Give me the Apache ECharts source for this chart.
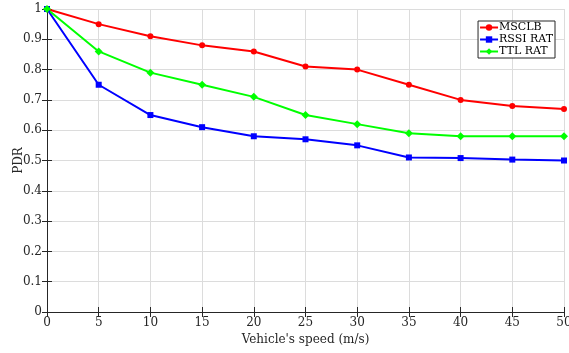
<!DOCTYPE html>
<html>
<head>
<meta charset="utf-8">
<script src="https://cdn.jsdelivr.net/npm/echarts@6/dist/echarts.min.js"></script>
<style>
html,body{margin:0;padding:0;background:#fff;}
#chart{width:569px;height:353px;}
</style>
</head>
<body>
<div id="chart"></div>
<script>
// Vehicle speed (m/s)
const speeds = [0, 5, 10, 15, 20, 25, 30, 35, 40, 45, 50];
// Packet delivery ratio per scheme
const msclb = [1, 0.95, 0.91, 0.88, 0.86, 0.81, 0.80, 0.75, 0.70, 0.68, 0.67];
const rssiRat = [1, 0.75, 0.65, 0.61, 0.58, 0.57, 0.55, 0.51, 0.508, 0.503, 0.50];
const ttlRat = [1, 0.86, 0.79, 0.75, 0.71, 0.65, 0.62, 0.59, 0.58, 0.58, 0.58];

const FONT = 'DejaVu Serif';
const toPairs = arr => arr.map((v, i) => [speeds[i], v]);

const chart = echarts.init(document.getElementById('chart'), null, {renderer: 'canvas'});

const axisLine = {show: true, lineStyle: {color: '#262626', width: 1}};
const tickIn = {show: true, inside: true, length: 5, lineStyle: {color: '#262626'}};

function series(name, data, color, symbol, size) {
  return {
    name, type: 'line', data: toPairs(data),
    symbol, symbolSize: size,
    lineStyle: {color, width: 2},
    itemStyle: {color},
    emphasis: {disabled: true},
    animation: false
  };
}

chart.setOption({
  animation: false,
  grid: {left: 47, right: 5, top: 9, bottom: 41, outerBoundsMode: 'none', containLabel: false},
  legend: {
    right: 14, top: 21, orient: 'vertical',
    itemWidth: 18, itemHeight: 8, itemGap: 1,
    padding: [1, 2, 1, 1],
    borderColor: '#262626', borderWidth: 1, backgroundColor: '#fff',
    textStyle: {fontFamily: FONT, fontSize: 11, color: '#000', padding: [0, 0, 0, -4]},
    data: ['MSCLB', 'RSSI RAT', 'TTL RAT']
  },
  xAxis: [{
    type: 'value', min: 0, max: 50, interval: 5,
    name: "Vehicle's speed (m/s)", nameLocation: 'middle', nameGap: 22, nameMoveOverlap: false,
    nameTextStyle: {fontFamily: FONT, fontSize: 12, color: '#262626'},
    axisLine, axisTick: tickIn,
    axisLabel: {fontFamily: FONT, fontSize: 12, color: '#262626', margin: 5},
    splitLine: {show: true, lineStyle: {color: '#dcdcdc', width: 1}}
  }, {
    type: 'value', min: 0, max: 50, interval: 5, position: 'top',
    axisLine, axisTick: tickIn, axisLabel: {show: false}, splitLine: {show: false}
  }],
  yAxis: [{
    type: 'value', min: 0, max: 1, interval: 0.1,
    name: 'PDR', nameLocation: 'middle', nameGap: 22, nameMoveOverlap: false,
    nameTextStyle: {fontFamily: FONT, fontSize: 12, color: '#262626'},
    axisLine, axisTick: tickIn,
    axisLabel: {fontFamily: FONT, fontSize: 12, color: '#262626', margin: 5,
      formatter: v => (Math.round(v * 10) / 10).toString()},
    splitLine: {show: true, lineStyle: {color: '#dcdcdc', width: 1}}
  }, {
    type: 'value', min: 0, max: 1, interval: 0.1, position: 'right',
    axisLine, axisTick: tickIn, axisLabel: {show: false}, splitLine: {show: false}
  }],
  series: [
    series('MSCLB', msclb, '#ff0000', 'circle', 6),
    series('RSSI RAT', rssiRat, '#0000ff', 'rect', 6),
    series('TTL RAT', ttlRat, '#00ff00', 'diamond', 8)
  ]
});
</script>
</body>
</html>
